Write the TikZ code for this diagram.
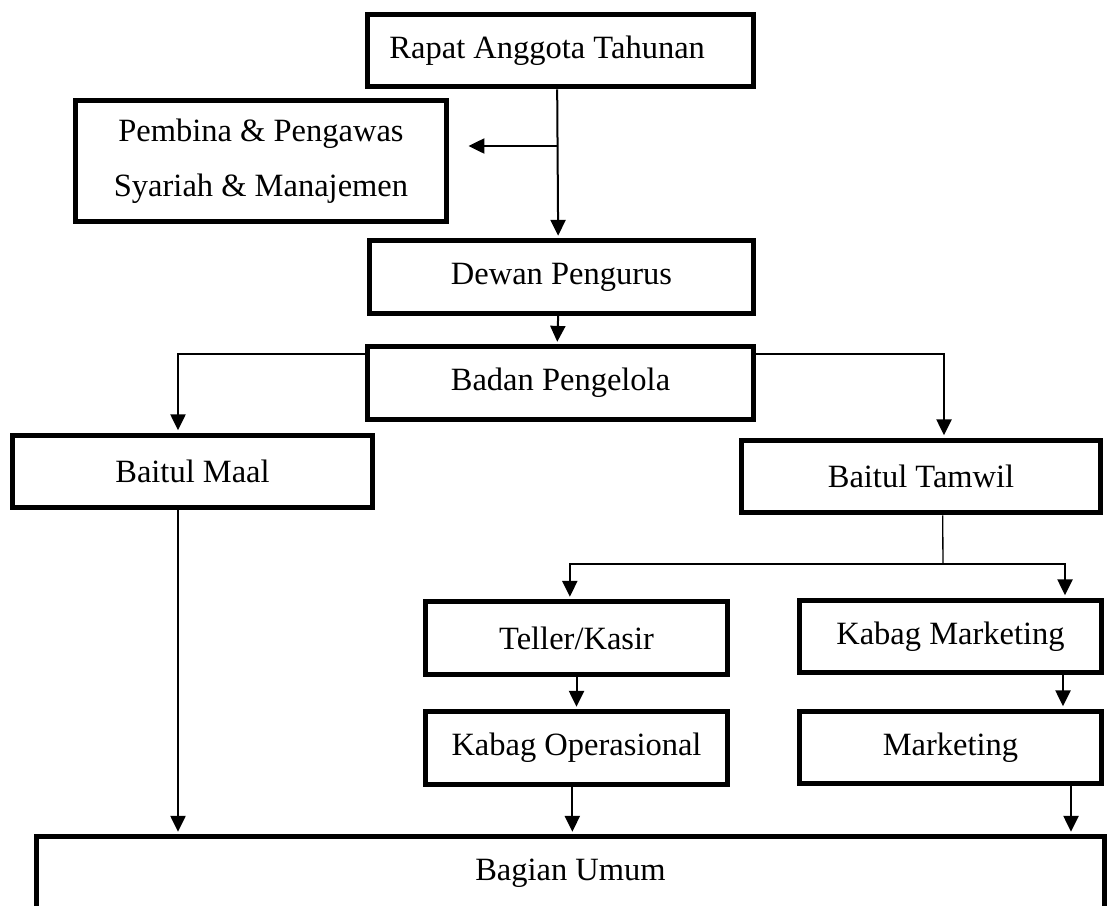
\documentclass[tikz,border=0pt]{standalone}
\usepackage{fontspec}
\setmainfont{Liberation Serif}
\usetikzlibrary{positioning,arrows.meta,calc}

\begin{document}
\begin{tikzpicture}[
      x=0.6pt, y=-0.6pt,
      font=\fontsize{19.5}{23}\selectfont,
      kotak/.style={rectangle, draw, line width=3pt, align=center, inner sep=2pt,
        minimum width=#1, minimum height=43.5pt},
      kotak/.default=230pt,
      flow/.style={-{Triangle[length=9.5pt, width=9pt]}, line width=1.2pt, shorten >=1.5pt},
      garis/.style={line width=0.8pt},
    ]
    \useasboundingbox (0,0) rectangle (1108,905);
    \clip (0,0) rectangle (1108,905);

    \node[kotak=231.6pt] (rapat)   at (560.5,50.5) {Rapat Anggota Tahunan\hspace*{16pt}};
    \node[kotak=222.6pt, minimum height=72.6pt, font=\fontsize{19.5}{33}\selectfont]
                         (pembina) at (261,161)    {Pembina \& Pengawas\\Syariah \& Manajemen};
    \node[kotak=230.4pt] (dewan)   at (561.5,277)  {Dewan Pengurus};
    \node[kotak=231.6pt] (badan)   at (560.5,383)  {Badan Pengelola};
    \node[kotak=216pt]   (maal)    at (192.5,471.5) {Baitul Maal};
    \node[kotak=215.4pt] (tamwil)  at (921,476.5)  {Baitul Tamwil};
    \node[kotak=181.2pt] (teller)  at (576.5,638)  {Teller/Kasir};
    \node[kotak=181.2pt] (kabop)   at (576.5,748)  {Kabag Operasional};
    \node[kotak=181.2pt] (kabmkt)  at (950.5,636.5) {Kabag Marketing};
    \node[kotak=181.2pt] (mkt)     at (950.5,747.5) {Marketing};
    \node[kotak=640.8pt] (bagian)  at (570.5,873)  {Bagian Umum};

    % cabang ke pembina dan ke bawah
    \coordinate (cabang) at (557,146);
    \draw[flow] ([xshift=-2pt]rapat.south) -- ([xshift=-2pt]dewan.north);
    \draw[flow, shorten >=11.7pt] (cabang) -- (cabang -| pembina.east);
    \draw[flow] ([xshift=-2pt]dewan.south) -- ([xshift=-2pt]badan.north);

    \draw[flow] ([yshift=-6pt]badan.north west) -| ([xshift=-8.7pt]maal.north);
    \draw[flow] ([yshift=-6pt]badan.north east) -| ([xshift=13.8pt]tamwil.north);

    \coordinate (bagi) at (943,564);
    \draw[garis] ([xshift=13pt]tamwil.south) -- (bagi);
    \draw[flow] (bagi) -| ([xshift=-4pt]teller.north);
    \draw[flow] (bagi) -| ([xshift=68.7pt]kabmkt.north);

    \draw[flow] (teller.south) -- (kabop.north);
    \draw[flow] ([xshift=67.5pt]kabmkt.south) -- ([xshift=67.5pt]mkt.north);

    \draw[flow] ([xshift=-8.7pt]maal.south) -- ([xshift=-8.7pt]maal.south |- bagian.north);
    \draw[flow] ([xshift=-2.5pt]kabop.south) -- ([xshift=-2.5pt]kabop.south |- bagian.north);
    \draw[flow] ([xshift=72.3pt]mkt.south) -- ([xshift=72.3pt]mkt.south |- bagian.north);
  \end{tikzpicture}
\end{document}
